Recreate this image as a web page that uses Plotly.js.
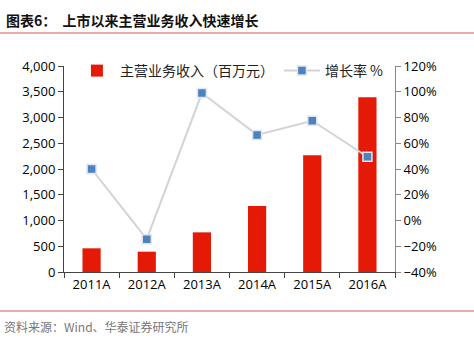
<!DOCTYPE html>
<html>
<head>
<meta charset="utf-8">
<script src="https://cdn.plot.ly/plotly-3.0.1.min.js"></script>
<style>html,body{margin:0;padding:0;background:#fff;}#chart{width:474px;height:342px;}</style>
</head>
<body>
<div id="chart"></div>
<script>
const categories = ["2011A", "2012A", "2013A", "2014A", "2015A", "2016A"];
const revenue = [460, 395, 770, 1282, 2266, 3392];
const growth = [40, -14.5, 99, 66.5, 77.5, 49.5];
const revenueName = "主营业务收入（百万元）";
const growthName = "增长率 %";
const titleText = "<b>图表6：  上市以来主营业务收入快速增长</b>";
const sourceText = "资料来源：Wind、华泰证券研究所";

const tickFont = {family: "Open Sans, Liberation Sans, sans-serif", size: 13, color: "#000"};

const data = [
  {
    type: "bar", x: categories, y: revenue, name: revenueName,
    marker: {color: "#E41A07"}, width: 0.33, yaxis: "y"
  },
  {
    type: "scatter", mode: "lines+markers", x: categories, y: growth, name: growthName,
    yaxis: "y2",
    line: {color: "#D3D3D3", width: 2},
    marker: {symbol: "square", size: 9, color: "#4F81BD", line: {color: "#DCE6F2", width: 1.5}}
  }
];

const layout = {
  width: 474, height: 342,
  margin: {l: 64, r: 79, t: 66, b: 70},
  paper_bgcolor: "#fff", plot_bgcolor: "#fff",
  showlegend: true,
  legend: {
    orientation: "h", x: 0.03, y: (272-71)/206, xanchor: "left", yanchor: "middle",
    font: {family: "Noto Sans CJK SC, sans-serif", size: 14, color: "#222"},
    bgcolor: "rgba(0,0,0,0)", itemwidth: 36, traceorder: "normal"
  },
  xaxis: {
    type: "category", showline: true, linecolor: "#444", linewidth: 1,
    ticks: "outside", tickson: "boundaries", ticklen: 5, tickcolor: "#444",
    tickfont: tickFont, showgrid: false, zeroline: false
  },
  yaxis: {
    range: [0, 4000], dtick: 500, tickformat: ",", showline: true, linecolor: "#444",
    ticks: "outside", ticklen: 5, tickcolor: "#444", tickfont: tickFont,
    showgrid: false, zeroline: false
  },
  yaxis2: {
    overlaying: "y", side: "right", range: [-40, 120], dtick: 20, ticksuffix: "%",
    showline: true, linecolor: "#888", ticks: "outside", ticklen: 5, tickcolor: "#888",
    tickfont: tickFont, showgrid: false, zeroline: false
  },
  shapes: [
    {type: "line", xref: "paper", yref: "paper", x0: -64/331, x1: (474-64)/331, y0: (272-33)/206, y1: (272-33)/206, line: {color: "#D9575B", width: 1}},
    {type: "line", xref: "paper", yref: "paper", x0: -64/331, x1: (474-64)/331, y0: (272-311)/206, y1: (272-311)/206, line: {color: "#D9575B", width: 1}}
  ],
  annotations: [
    {text: titleText, xref: "paper", yref: "paper", x: -60/331, y: (272-20)/206, xanchor: "left", yanchor: "middle", showarrow: false,
     font: {family: "Noto Sans CJK SC, sans-serif", size: 14, color: "#111"}},
    {text: sourceText, xref: "paper", yref: "paper", x: -62/331, y: (272-326)/206, xanchor: "left", yanchor: "middle", showarrow: false,
     font: {family: "Noto Sans CJK SC, sans-serif", size: 12, color: "#777"}}
  ]
};

Plotly.newPlot("chart", data, layout, {displayModeBar: false, staticPlot: true});
</script>
</body>
</html>
